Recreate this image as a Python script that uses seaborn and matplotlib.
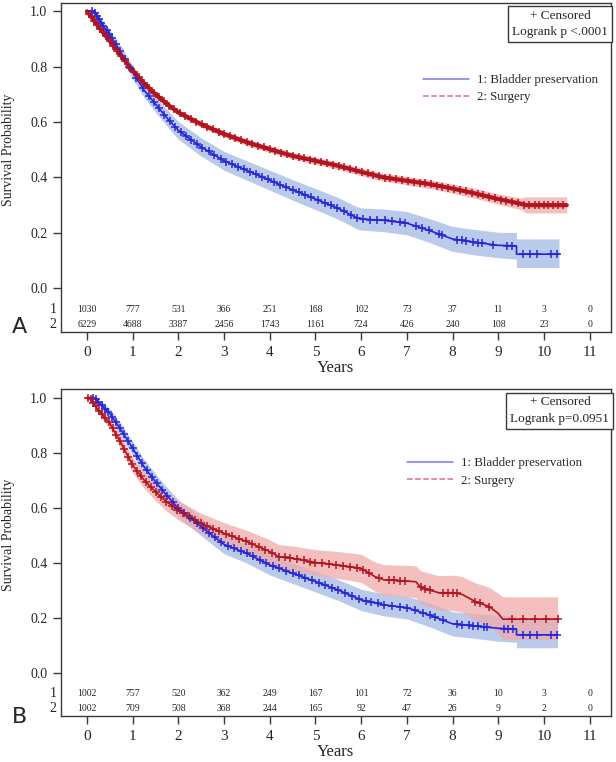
import numpy as np
import matplotlib
matplotlib.use('Agg')
import matplotlib.pyplot as plt
from matplotlib.lines import Line2D
import seaborn as sns

sns.set_theme(style='white')
plt.rcParams['font.family'] = ['Liberation Serif', 'DejaVu Serif']

# ---------------- Panel A data ----------------
a_blue_t = [0, 0.15, 0.3, 0.5, 0.75, 1.0, 1.25, 1.5, 1.75, 2.0, 2.5, 3.0, 3.5, 4.0, 4.5, 5.0,
            5.5, 5.9, 6.0, 6.5, 7.0, 7.5, 8.0, 8.5, 9.0, 9.4, 9.4, 10.33]
a_blue_s = [1.0, 1.0, 0.96, 0.915, 0.85, 0.78, 0.715, 0.665, 0.615, 0.57, 0.51, 0.46, 0.425, 0.39,
            0.355, 0.322, 0.288, 0.255, 0.25, 0.245, 0.235, 0.208, 0.178, 0.166, 0.155, 0.153, 0.123, 0.123]
a_blue_lo = [1.0, 0.99, 0.945, 0.897, 0.828, 0.755, 0.688, 0.636, 0.585, 0.538, 0.477, 0.426, 0.39,
             0.354, 0.318, 0.284, 0.249, 0.215, 0.21, 0.204, 0.193, 0.165, 0.133, 0.12, 0.11, 0.105, 0.075, 0.075]
a_blue_hi = [1.0, 1.0, 0.975, 0.933, 0.872, 0.805, 0.742, 0.694, 0.645, 0.602, 0.543, 0.494, 0.46,
             0.426, 0.392, 0.36, 0.327, 0.295, 0.29, 0.286, 0.277, 0.251, 0.223, 0.212, 0.202, 0.201, 0.178, 0.178]
a_blue_cens = [0.12, 0.17, 0.21, 0.26, 0.31, 0.36, 0.43, 0.48, 0.55, 0.63, 0.72, 0.83, 0.95, 1.08,
               1.22, 1.35, 1.47, 1.58, 1.69, 1.82, 1.93, 2.05, 2.17, 2.28, 2.41, 2.52, 2.66, 2.78,
               2.93, 3.05, 3.17, 3.31, 3.44, 3.57, 3.69, 3.83, 3.96, 4.1, 4.23, 4.36, 4.5, 4.63,
               4.77, 4.9, 5.05, 5.2, 5.33, 5.48, 5.62, 5.78, 5.9, 6.05, 6.2, 6.35, 6.52, 6.68,
               6.85, 6.97, 7.2, 7.33, 7.48, 7.7, 7.78, 8.1, 8.2, 8.3, 8.45, 8.55, 8.65, 8.88,
               9.2, 9.3, 9.55, 9.7, 9.85, 10.15, 10.28]

a_red_t = [0, 0.25, 0.5, 0.75, 1.0, 1.25, 1.5, 1.75, 2.0, 2.5, 3.0, 3.5, 4.0, 4.5, 5.0, 5.5,
           6.0, 6.5, 7.0, 7.5, 8.0, 8.5, 9.0, 9.5, 9.6, 10.5]
a_red_s = [1.0, 0.945, 0.892, 0.838, 0.786, 0.74, 0.70, 0.665, 0.635, 0.592, 0.557, 0.527, 0.502,
           0.478, 0.46, 0.442, 0.42, 0.40, 0.388, 0.376, 0.36, 0.342, 0.322, 0.305, 0.30, 0.30]
a_red_lo = [1.0, 0.94, 0.886, 0.831, 0.778, 0.731, 0.691, 0.655, 0.625, 0.581, 0.546, 0.515, 0.49,
            0.466, 0.447, 0.429, 0.406, 0.386, 0.373, 0.36, 0.343, 0.324, 0.303, 0.284, 0.272, 0.272]
a_red_hi = [1.0, 0.95, 0.898, 0.845, 0.794, 0.749, 0.709, 0.675, 0.645, 0.603, 0.568, 0.539, 0.514,
            0.49, 0.473, 0.455, 0.434, 0.414, 0.403, 0.392, 0.377, 0.36, 0.341, 0.326, 0.33, 0.33]
a_red_cens = [0.05, 0.1, 0.16, 0.22, 0.29, 0.35, 0.42, 0.5, 0.58, 0.66, 0.75, 0.84, 0.93, 1.03,
              1.13, 1.24, 1.35, 1.46, 1.57, 1.68, 1.8, 1.91, 2.03, 2.15, 2.27, 2.39, 2.51, 2.63,
              2.75, 2.88, 3.0, 3.12, 3.25, 3.37, 3.5, 3.62, 3.75, 3.87, 4.0, 4.12, 4.25, 4.38,
              4.5, 4.63, 4.75, 4.88, 5.0, 5.13, 5.26, 5.38, 5.51, 5.63, 5.76, 5.88, 6.01, 6.14,
              6.26, 6.39, 6.52, 6.64, 6.77, 6.9, 7.02, 7.15, 7.28, 7.4, 7.53, 7.66, 7.78, 7.91,
              8.04, 8.16, 8.29, 8.42, 8.55, 8.67, 8.8, 8.93, 9.06, 9.18, 9.31, 9.44, 9.56, 9.68,
              9.8, 9.9, 10.0, 10.1, 10.2, 10.3, 10.42]
a_risk1 = [1030, 777, 531, 366, 251, 168, 102, 73, 37, 11, 3, 0]
a_risk2 = [6229, 4688, 3387, 2456, 1743, 1161, 724, 426, 240, 108, 23, 0]
a_logrank = 'Logrank p <.0001'

# ---------------- Panel B data ----------------
b_blue_t = [0, 0.15, 0.3, 0.5, 0.75, 1.0, 1.25, 1.5, 1.75, 2.0, 2.5, 3.0, 3.5, 4.0, 4.5, 5.0,
            5.5, 6.0, 6.5, 7.0, 7.5, 8.0, 8.5, 9.0, 9.4, 9.4, 10.3]
b_blue_s = [1.0, 1.0, 0.975, 0.942, 0.881, 0.815, 0.748, 0.694, 0.643, 0.597, 0.53, 0.466, 0.433,
            0.391, 0.361, 0.331, 0.30, 0.264, 0.246, 0.236, 0.209, 0.177, 0.169, 0.161, 0.158, 0.137, 0.137]
b_blue_lo = [1.0, 0.995, 0.962, 0.924, 0.858, 0.79, 0.721, 0.665, 0.613, 0.566, 0.497, 0.432, 0.398,
             0.355, 0.324, 0.293, 0.262, 0.225, 0.206, 0.195, 0.166, 0.133, 0.124, 0.114, 0.11, 0.09, 0.09]
b_blue_hi = [1.0, 1.0, 0.988, 0.96, 0.904, 0.84, 0.775, 0.723, 0.673, 0.628, 0.563, 0.5, 0.468,
             0.427, 0.398, 0.369, 0.338, 0.303, 0.286, 0.277, 0.252, 0.221, 0.214, 0.208, 0.206, 0.2, 0.2]
b_blue_cens = [0.14, 0.19, 0.25, 0.32, 0.4, 0.47, 0.55, 0.63, 0.72, 0.8, 0.9, 1.0, 1.1, 1.2,
               1.31, 1.42, 1.53, 1.64, 1.76, 1.88, 2.0, 2.13, 2.26, 2.4, 2.53, 2.67, 2.8, 2.94,
               3.08, 3.22, 3.37, 3.5, 3.63, 3.78, 3.92, 4.06, 4.2, 4.35, 4.5, 4.63, 4.78, 4.92,
               5.07, 5.2, 5.36, 5.5, 5.65, 5.8, 5.95, 6.1, 6.22, 6.36, 6.5, 6.68, 6.85, 7.0,
               7.18, 7.35, 7.5, 7.62, 7.8, 8.1, 8.2, 8.35, 8.45, 8.55, 8.68, 8.76, 9.12, 9.22,
               9.32, 9.55, 9.7, 9.85, 10.15, 10.28]

b_red_t = [0, 0.05, 0.25, 0.5, 0.75, 1.0, 1.25, 1.5, 1.75, 2.0, 2.5, 3.0, 3.5, 4.0, 4.2, 4.5,
           5.0, 5.5, 6.0, 6.3, 6.5, 7.0, 7.2, 7.3, 7.7, 8.0, 8.2, 8.5, 8.8, 9.0, 9.1, 10.3]
b_red_s = [1.0, 1.0, 0.954, 0.906, 0.833, 0.754, 0.70, 0.657, 0.62, 0.59, 0.542, 0.506, 0.476,
           0.44, 0.421, 0.415, 0.40, 0.391, 0.379, 0.349, 0.337, 0.333, 0.33, 0.31, 0.29, 0.29,
           0.285, 0.258, 0.24, 0.215, 0.194, 0.194]
b_red_lo = [1.0, 1.0, 0.94, 0.886, 0.808, 0.726, 0.67, 0.625, 0.586, 0.555, 0.505, 0.467, 0.435,
            0.397, 0.377, 0.37, 0.353, 0.342, 0.328, 0.296, 0.282, 0.276, 0.272, 0.25, 0.228,
            0.226, 0.22, 0.19, 0.17, 0.142, 0.12, 0.12]
b_red_hi = [1.0, 1.0, 0.968, 0.926, 0.858, 0.782, 0.73, 0.689, 0.654, 0.625, 0.579, 0.545, 0.517,
            0.483, 0.465, 0.46, 0.447, 0.44, 0.43, 0.402, 0.392, 0.39, 0.388, 0.37, 0.352, 0.354,
            0.35, 0.326, 0.31, 0.288, 0.275, 0.275]
b_red_cens = [0.03, 0.08, 0.13, 0.19, 0.26, 0.33, 0.4, 0.48, 0.56, 0.64, 0.72, 0.81, 0.9, 0.99,
              1.09, 1.19, 1.29, 1.4, 1.51, 1.62, 1.74, 1.86, 1.98, 2.1, 2.23, 2.36, 2.49, 2.62,
              2.76, 2.9, 3.04, 3.18, 3.33, 3.47, 3.61, 3.76, 3.9, 4.05, 4.2, 4.33, 4.45, 4.6,
              4.74, 4.88, 5.0, 5.14, 5.3, 5.45, 5.6, 5.75, 5.9, 6.05, 6.18, 6.4, 6.6, 6.72,
              6.85, 6.96, 7.3, 7.4, 7.5, 7.8, 7.9, 8.0, 8.1, 8.5, 8.6, 8.8, 9.3, 9.55, 9.8, 10.05, 10.3]
b_risk1 = [1002, 757, 520, 362, 249, 167, 101, 72, 36, 10, 3, 0]
b_risk2 = [1002, 709, 508, 368, 244, 165, 92, 47, 26, 9, 2, 0]
b_logrank = 'Logrank p=0.0951'

years = list(range(12))
blue, blue_band = '#2626d8', '#a9bde6'
red, red_band = '#b3141f', '#f0aaaa'
frame_col = '#3a3a3a'


def draw_panel(ax, blue_curve, red_curve, risk1, risk2, logrank, red_lw, legend_xy):
    bt, bs, blo, bhi, bc = blue_curve
    rt, rs, rlo, rhi, rc = red_curve
    ax.fill_between(bt, blo, bhi, color=blue_band, alpha=0.8, lw=0)
    ax.fill_between(rt, rlo, rhi, color=red_band, alpha=0.75, lw=0)
    sns.lineplot(x=bt, y=bs, color=blue, lw=1.2, estimator=None, sort=False, ax=ax)
    sns.lineplot(x=rt, y=rs, color=red, lw=red_lw, estimator=None, sort=False, ax=ax)
    ax.plot(bc, np.interp(bc, bt, bs), ls='none', marker='+', ms=6, mew=1.1, color=blue)
    ax.plot(rc, np.interp(rc, rt, rs), ls='none', marker='+', ms=6, mew=1.1, color=red)

    ax.set_xlim(-0.576, 11.47)
    ax.set_ylim(-0.158, 1.03)
    ax.set_xticks(years)
    ax.set_xticklabels([str(y) for y in years], fontsize=11)
    ax.set_yticks([0, 0.2, 0.4, 0.6, 0.8, 1.0])
    ax.set_yticklabels(['0.0', '0.2', '0.4', '0.6', '0.8', '1.0'], fontsize=10)
    ax.tick_params(axis='both', direction='out', length=6, width=1, color=frame_col,
                   left=True, bottom=True)
    ax.tick_params(axis='x', pad=4)
    for sp in ax.spines.values():
        sp.set_color(frame_col)
        sp.set_linewidth(1)
    ax.set_xlabel('Years', fontsize=12, labelpad=1)
    ax.set_ylabel('Survival Probability', fontsize=10)
    ax.yaxis.set_label_coords(-0.083, 0.555)

    # numbers at risk inside the frame
    for x, n1, n2 in zip(years, risk1, risk2):
        ax.text(x, -0.075, str(n1), ha='center', va='center', fontsize=7)
        ax.text(x, -0.132, str(n2), ha='center', va='center', fontsize=7)
    trans = ax.get_yaxis_transform()
    ax.text(-0.008, -0.075, '1', transform=trans, ha='right', va='center', fontsize=10)
    ax.text(-0.008, -0.132, '2', transform=trans, ha='right', va='center', fontsize=10)

    ax.text(0.907, 0.978, '+ Censored\n' + logrank, transform=ax.transAxes, ha='center',
            va='top', fontsize=9.5, linespacing=1.45,
            bbox=dict(boxstyle='square,pad=0.3', fc='white', ec=frame_col, lw=1))

    handles = [Line2D([], [], color='#7b7be6', lw=1.1),
               Line2D([], [], color='#d9707e', lw=1.1, ls='--')]
    ax.legend(handles, ['1: Bladder preservation', '2: Surgery'], loc='upper left',
              bbox_to_anchor=legend_xy, frameon=False, fontsize=9.3, borderpad=0,
              borderaxespad=0, handlelength=3.6, handletextpad=0.6, labelspacing=0.4)


fig = plt.figure(figsize=(6.16, 7.62), dpi=100)
ax_a = fig.add_axes([0.0985, 0.5643, 0.8935, 0.4318])
ax_b = fig.add_axes([0.0985, 0.0604, 0.8935, 0.4287])

draw_panel(ax_a, (a_blue_t, a_blue_s, a_blue_lo, a_blue_hi, a_blue_cens),
           (a_red_t, a_red_s, a_red_lo, a_red_hi, a_red_cens), a_risk1, a_risk2, a_logrank, 3.0,
           (0.658, 0.784))
draw_panel(ax_b, (b_blue_t, b_blue_s, b_blue_lo, b_blue_hi, b_blue_cens),
           (b_red_t, b_red_s, b_red_lo, b_red_hi, b_red_cens), b_risk1, b_risk2, b_logrank, 1.2,
           (0.629, 0.792))

fig.text(0.031, 1 - 327 / 762, 'A', fontsize=16, family=['DejaVu Sans'], va='center', ha='center')
fig.text(0.031, 1 - 717 / 762, 'B', fontsize=16, family=['DejaVu Sans'], va='center', ha='center')

fig.savefig('out.png', dpi=100)
